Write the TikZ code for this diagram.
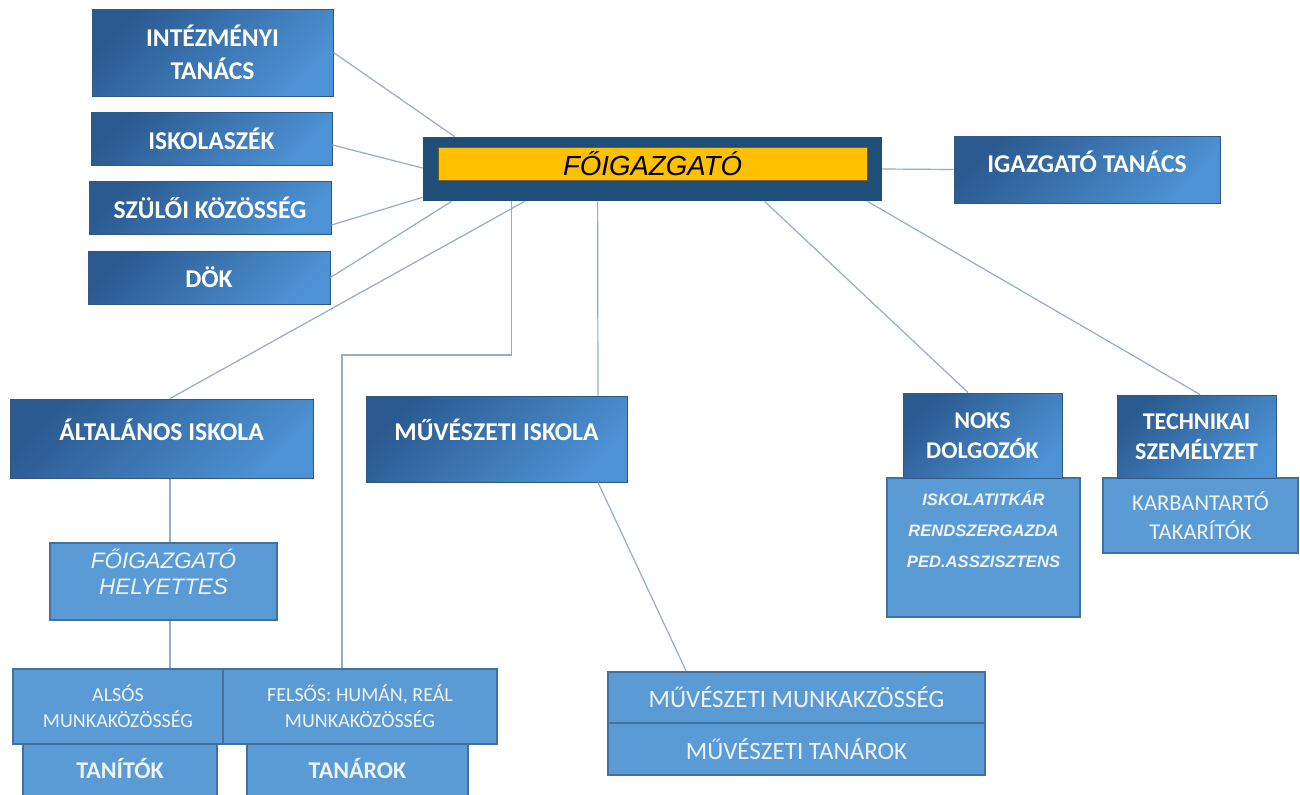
\documentclass[tikz,border=0pt]{standalone}
\usepackage{fontspec}
\newfontfamily\calfont{Carlito}
\newfontfamily\arifont{Liberation Sans}
\usetikzlibrary{calc}
\definecolor{dkA}{HTML}{2B5A90}
\definecolor{ltA}{HTML}{4D92D4}
\definecolor{lbox}{HTML}{5B9BD5}
\definecolor{lborder}{HTML}{41719C}
\definecolor{dborder}{HTML}{2F5885}
\definecolor{navy}{HTML}{1F4E79}
\definecolor{gold}{HTML}{FFC000}
\definecolor{goldb}{HTML}{7A5C10}
\definecolor{connc}{HTML}{93AEC6}
\definecolor{ltext}{HTML}{EEF3FA}
\begin{document}
\begin{tikzpicture}[x=0.5pt,y=-0.5pt,
  dbox/.style={rectangle, draw=dborder, line width=0.5pt, top color=dkA, bottom color=ltA, shading angle=45, inner sep=0pt, text=white, align=center, font=\calfont\bfseries\fontsize{12.8}{16.5}\selectfont},
  dtxt/.style={inner sep=0pt, text=white, align=center, font=\calfont\bfseries\fontsize{12.8}{16.5}\selectfont},
  lbx/.style={rectangle, draw=lborder, line width=0.8pt, fill=lbox, inner sep=0pt, text=ltext, align=center},
  ltxt/.style={inner sep=0pt, text=ltext, align=center},
  link/.style={draw=connc, line width=0.6pt}]
\useasboundingbox (0,0) rectangle (1300,794);
\clip (0,0) rectangle (1300,794);
\fill[white] (0,0) rectangle (1300,794);

% left column
\node[dbox, minimum width=120.5pt, minimum height=43.5pt] (intez) at (212.5,52.5) {INTÉZMÉNYI\\TANÁCS};
\node[dbox, minimum width=120.5pt, minimum height=26.5pt] (iskszek) at (211.5,138.5) {ISKOLASZÉK};
\node[dbox, minimum width=121pt, minimum height=26.5pt] (szuloi) at (210,207.5) {SZÜLŐI KÖZÖSSÉG};
\node[dbox, minimum width=121pt, minimum height=26.5pt] (dok) at (209,277.5) {DÖK};

% top
\node[fill=navy, inner sep=0pt, minimum width=229.5pt, minimum height=32pt] (fo) at (652.5,169) {};
\node[fill=gold, draw=goldb, line width=0.5pt, inner sep=0pt, minimum width=214.5pt, minimum height=16.5pt, font=\arifont\itshape\fontsize{13.8}{15}\selectfont] (foin) at (652.5,163.5) {FŐIGAZGATÓ};
\node[dbox, minimum width=133pt, minimum height=33.5pt] (igt) at (1087,169.5) {};
\node[dtxt] (igtT) at (1087,162) {IGAZGATÓ TANÁCS};

% schools
\node[dbox, minimum width=151.5pt, minimum height=39.5pt] (alt) at (161.5,438.5) {};
\node[dtxt] (altT) at (161.5,430) {ÁLTALÁNOS ISKOLA};
\node[dbox, minimum width=130.5pt, minimum height=43pt] (muvisk) at (496.5,439) {};
\node[dtxt] (muviskT) at (496.5,430) {MŰVÉSZETI ISKOLA};

% deputy
\node[lbx, minimum width=113.5pt, minimum height=38.5pt] (hely) at (163.5,581.5) {};
\node[ltxt, font=\arifont\itshape\fontsize{11.2}{13}\selectfont] (helyT) at (163.5,572) {FŐIGAZGATÓ\\HELYETTES};

% bottom left
\node[lbx, minimum width=97pt, minimum height=28pt] (tanitok) at (120,772) {};
\node[ltxt, font=\calfont\bfseries\fontsize{12}{14}\selectfont] (tanitokT) at (120,768) {TANÍTÓK};
\node[lbx, minimum width=110.5pt, minimum height=28pt] (tanarok) at (357.5,772) {};
\node[ltxt, font=\calfont\bfseries\fontsize{12}{14}\selectfont] (tanarokT) at (357.5,768) {TANÁROK};
\node[lbx, minimum width=105pt, minimum height=37.5pt, font=\calfont\fontsize{10}{13}\selectfont] (alsos) at (118,706.5) {ALSÓS\\MUNKAKÖZÖSSÉG};
\node[lbx, minimum width=137pt, minimum height=37.5pt, font=\calfont\fontsize{10}{13}\selectfont] (felsos) at (360,706.5) {FELSŐS: HUMÁN, REÁL\\MUNKAKÖZÖSSÉG};

% art
\node[lbx, minimum width=188.5pt, minimum height=25.5pt, font=\calfont\fontsize{12.5}{15}\selectfont] (muvmk) at (796.5,697.5) {MŰVÉSZETI MUNKAKZÖSSÉG};
\node[lbx, minimum width=188.5pt, minimum height=26pt, font=\calfont\fontsize{12.5}{15}\selectfont] (muvt) at (796.5,749) {MŰVÉSZETI TANÁROK};

% staff
\node[lbx, minimum width=96.5pt, minimum height=69.5pt] (noksL) at (983.5,547.5) {};
\node[ltxt, font=\arifont\bfseries\itshape\fontsize{8.3}{15.5}\selectfont] (noksLT) at (983.5,529) {ISKOLATITKÁR\\RENDSZERGAZDA\\PED.ASSZISZTENS};
\node[dbox, minimum width=79.5pt, minimum height=42.5pt, font=\calfont\bfseries\fontsize{12}{15}\selectfont] (noks) at (982.5,435.5) {NOKS\\DOLGOZÓK};
\node[lbx, minimum width=97.5pt, minimum height=37.5pt, font=\calfont\fontsize{11.3}{14.5}\selectfont] (techL) at (1200.5,515.5) {KARBANTARTÓ\\TAKARÍTÓK};
\node[dbox, minimum width=79.5pt, minimum height=41.5pt, font=\calfont\bfseries\fontsize{12}{15}\selectfont] (tech) at (1196.5,436.5) {TECHNIKAI\\SZEMÉLYZET};

% connectors
\coordinate (bend) at (342,355);
\draw[link] (intez.east) -- ($(fo.north west)+(32,0)$);
\draw[link] ($(iskszek.east)+(0,6.5)$) -- ($(fo.west)+(0,-1)$);
\draw[link] ($(szuloi.east)+(0,17.5)$) -- ($(fo.south west)+(0,-4)$);
\draw[link] (dok.east) -- ($(fo.south west)+(29,0)$);
\draw[link] ($(fo.south west)+(102,0)$) -- ($(alt.north)+(8.5,0)$);
\draw[link] ($(fo.south west)+(89,0)$) |- (bend) -- (bend |- felsos.north);
\draw[link] ($(fo.south west)+(175,0)$) -- ($(muvisk.north)+(101.5,0)$);
\draw[link] ($(muvisk.south)+(101.5,0)$) -- ($(muvmk.north west)+(79,0)$);
\draw[link] ($(alt.south)+(8.5,0)$) -- ($(hely.north)+(6.5,0)$);
\draw[link] ($(hely.south)+(6.5,0)$) -- ($(alsos.north)+(52,0)$);
\draw[link] ($(fo.south west)+(342,0)$) -- ($(noks.north)+(-14.5,0)$);
\draw[link] ($(fo.south west)+(445,0)$) -- ($(tech.north)+(3.5,0)$);
\draw[link] (fo.east) -- (igt.west);
\end{tikzpicture}
\end{document}
